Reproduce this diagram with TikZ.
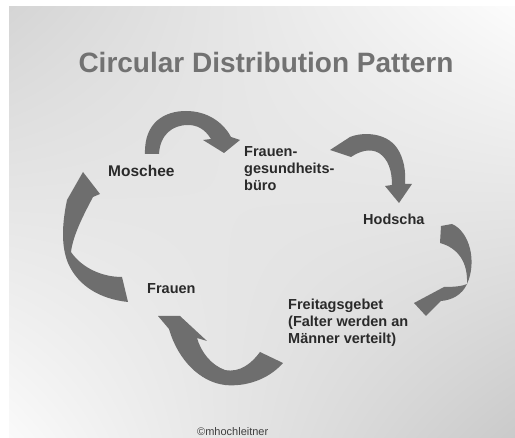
\documentclass[tikz,border=0pt]{standalone}
\usepackage{fontspec}
\setmainfont{Liberation Sans}
\usetikzlibrary{shadings}
\definecolor{arrowgrey}{HTML}{6E6E6E}
\definecolor{titlegrey}{HTML}{727272}
\definecolor{labelgrey}{HTML}{2A2A2A}
\definecolor{bgTL}{HTML}{D5D5D5}
\definecolor{bgTR}{HTML}{FCFCFC}
\definecolor{bgBL}{HTML}{FAFAFA}
\definecolor{bgBR}{HTML}{CACACA}
\begin{document}
\begin{tikzpicture}[x=1pt,y=-1pt,
  arrowshape/.style={fill=arrowgrey},
  titlestyle/.style={font=\bfseries\fontsize{28}{32}\selectfont, text=titlegrey, inner sep=0pt},
  lbl/.style={font=\bfseries\fontsize{14.5}{17}\selectfont, text=labelgrey, inner sep=0pt, align=left},
  copystyle/.style={font=\fontsize{11}{13}\selectfont, text=labelgrey!90, inner sep=0pt}]
\useasboundingbox (0,0) rectangle (515,438);
\clip (0,0) rectangle (515,438);
\fill[white] (0,0) rectangle (515,438);
\shade[upper left=bgTL, upper right=bgTR, lower left=bgBL, lower right=bgBR] (9,7) rectangle (515,438);

\node[titlestyle, anchor=base] (title) at (266,73) {Circular Distribution Pattern};

% arrows
\fill[arrowshape] (145,154) .. controls (144,122) and (165,111) .. (186,111)
  .. controls (207,111) and (223,122) .. (231,137) -- (240,140) -- (224,153) -- (203,140) -- (211,139)
  .. controls (205,129) and (197,125) .. (188,125) .. controls (172,125) and (160,135) .. (159,154) -- cycle;
\fill[arrowshape] (330,150) -- (350,137) .. controls (362,132) and (386,132) .. (397,148)
  .. controls (404,158) and (406,172) .. (405,184) -- (412,184) -- (399,203) -- (385,186) -- (392,185)
  .. controls (392,170) and (388,159) .. (379,153) .. controls (370,148) and (360,151) .. (351,157) -- cycle;
\fill[arrowshape] (441,226) -- (452,224) .. controls (470,232) and (477,262) .. (467,284)
  .. controls (462,295) and (452,300) .. (441,301) -- (426,316) -- (414,303) -- (444,287)
  .. controls (455,287) and (463,286) .. (467,284) .. controls (468,262) and (458,248) .. (440,243) -- cycle;
\fill[arrowshape] (260,352) -- (283,363) .. controls (268,380) and (245,387) .. (225,385)
  .. controls (200,382) and (178,360) .. (169,329) -- (158,316) -- (180,316) -- (207,341) -- (197,338)
  .. controls (201,352) and (211,365) .. (225,370) .. controls (240,373) and (252,363) .. (260,352) -- cycle;
\fill[arrowshape] (122,277) -- (128,302) .. controls (100,299) and (78,286) .. (68,263)
  .. controls (61,246) and (62,224) .. (67,200) -- (83,172) -- (100,194) -- (93,197)
  .. controls (84,214) and (73,235) .. (71,252) .. controls (82,268) and (102,277) .. (122,277) -- cycle;

% labels
\node[lbl, font=\bfseries\fontsize{15.5}{17}\selectfont, anchor=base west] (moschee) at (108,177) {Moschee};
\node[lbl, anchor=north west] (fgb) at (244,146.5) {Frauen-\\gesundheits-\\büro};
\node[lbl, anchor=base west] (hodscha) at (363,225) {Hodscha};
\node[lbl, anchor=base west] (frauen) at (147,294) {Frauen};
\node[lbl, anchor=north west] (freitag) at (288,298.5) {Freitagsgebet\\(Falter werden an\\Männer verteilt)};
\node[copystyle, anchor=base west] (copy) at (197,436) {©mhochleitner};
\end{tikzpicture}
\end{document}
